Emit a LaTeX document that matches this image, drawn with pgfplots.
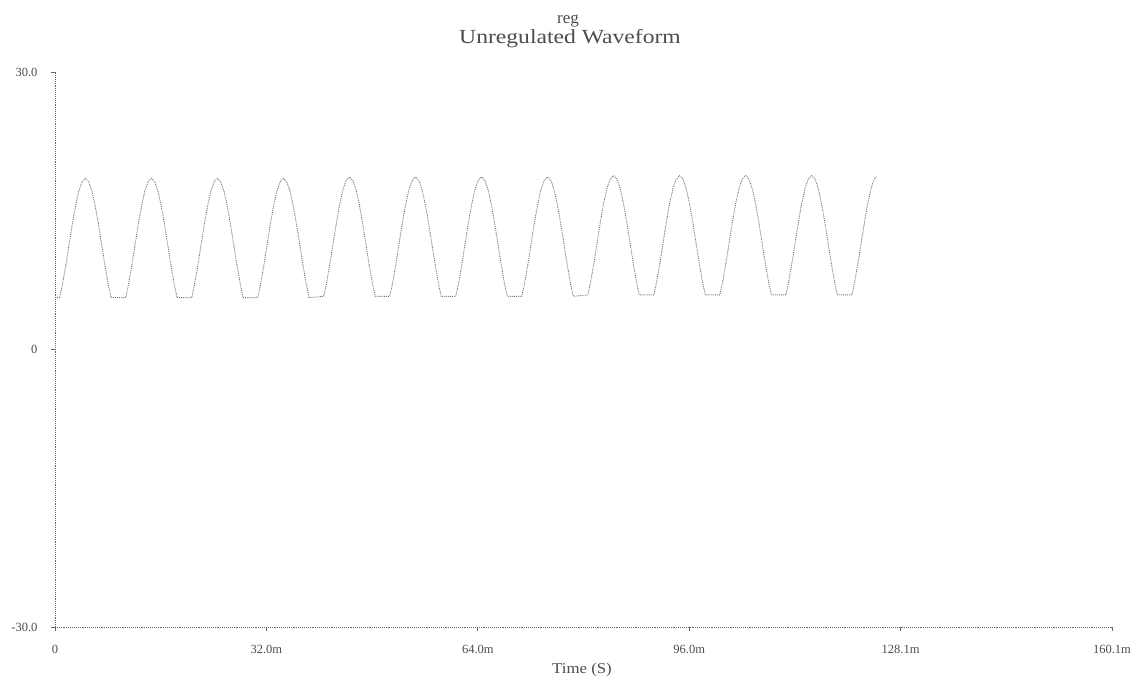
\documentclass[border=0pt]{standalone}
\usepackage{pgfplots}
\pgfplotsset{compat=1.18}
\usepackage{fontspec}
\setmainfont{Liberation Serif}
\begin{document}
\begin{tikzpicture}
\useasboundingbox (0,0) rectangle (1135pt,679pt);
\begin{axis}[
  at={(55pt,52pt)}, anchor=south west,
  scale only axis, width=1057pt, height=555pt,
  xmin=0, xmax=160.1, ymin=-30, ymax=30,
  axis x line*=bottom, axis y line*=left,
  axis line style={black!60, densely dotted, line width=0.9pt},
  xtick={0,32.02,64.04,96.06,128.08,160.1},
  xticklabels={0,32.0m,64.0m,96.0m,128.1m,160.1m},
  ytick={-30,0,30}, yticklabels={-30.0,0,30.0},
  tick align=outside, major tick length=4pt,
  tick style={black!60, line width=0.7pt},
  ticklabel style={font=\fontsize{12.5}{14}\selectfont, text=black!70},
  xticklabel style={yshift=-11pt},
  yticklabel style={xshift=-10pt},
  clip=false,
]
\addplot[black!55, densely dotted, line width=0.9pt] table {
0 5.6
0.7 5.6
1.1 6.91
1.6 8.94
2.1 11.2
2.6 13.46
3.1 15.49
3.6 17.11
4.1 18.14
4.6 18.5
5.1 18.14
5.6 17.11
6.1 15.49
6.6 13.46
7.1 11.2
7.6 8.94
8.1 6.91
8.5 5.6
10.7 5.6
11.1 6.91
11.6 8.94
12.1 11.2
12.6 13.46
13.1 15.49
13.6 17.11
14.1 18.14
14.6 18.5
15.1 18.14
15.6 17.11
16.1 15.49
16.6 13.46
17.1 11.2
17.6 8.94
18.1 6.91
18.5 5.6
20.7 5.6
21.1 6.91
21.6 8.94
22.1 11.2
22.6 13.46
23.1 15.49
23.6 17.11
24.1 18.14
24.6 18.5
25.1 18.14
25.6 17.11
26.1 15.49
26.6 13.46
27.1 11.2
27.6 8.94
28.1 6.91
28.5 5.6
30.7 5.6
31.1 6.91
31.6 8.94
32.1 11.2
32.6 13.46
33.1 15.49
33.6 17.11
34.1 18.14
34.6 18.5
35.1 18.14
35.6 17.11
36.1 15.49
36.6 13.46
37.1 11.2
37.6 8.94
38.1 6.91
38.5 5.6
40.7 5.75
41.1 7.06
41.6 9.09
42.1 11.35
42.6 13.61
43.1 15.64
43.6 17.26
44.1 18.29
44.6 18.65
45.1 18.29
45.6 17.26
46.1 15.64
46.6 13.61
47.1 11.35
47.6 9.09
48.1 7.06
48.5 5.75
50.7 5.75
51.1 7.06
51.6 9.09
52.1 11.35
52.6 13.61
53.1 15.64
53.6 17.26
54.1 18.29
54.6 18.65
55.1 18.29
55.6 17.26
56.1 15.64
56.6 13.61
57.1 11.35
57.6 9.09
58.1 7.06
58.5 5.75
60.7 5.75
61.1 7.06
61.6 9.09
62.1 11.35
62.6 13.61
63.1 15.64
63.6 17.26
64.1 18.29
64.6 18.65
65.1 18.29
65.6 17.26
66.1 15.64
66.6 13.61
67.1 11.35
67.6 9.09
68.1 7.06
68.5 5.75
70.7 5.75
71.1 7.06
71.6 9.09
72.1 11.35
72.6 13.61
73.1 15.64
73.6 17.26
74.1 18.29
74.6 18.65
75.1 18.29
75.6 17.26
76.1 15.64
76.6 13.61
77.1 11.35
77.6 9.09
78.1 7.06
78.5 5.75
80.7 5.9
81.1 7.21
81.6 9.24
82.1 11.5
82.6 13.76
83.1 15.79
83.6 17.41
84.1 18.44
84.6 18.8
85.1 18.44
85.6 17.41
86.1 15.79
86.6 13.76
87.1 11.5
87.6 9.24
88.1 7.21
88.5 5.9
90.7 5.9
91.1 7.21
91.6 9.24
92.1 11.5
92.6 13.76
93.1 15.79
93.6 17.41
94.1 18.44
94.6 18.8
95.1 18.44
95.6 17.41
96.1 15.79
96.6 13.76
97.1 11.5
97.6 9.24
98.1 7.21
98.5 5.9
100.7 5.9
101.1 7.21
101.6 9.24
102.1 11.5
102.6 13.76
103.1 15.79
103.6 17.41
104.1 18.44
104.6 18.8
105.1 18.44
105.6 17.41
106.1 15.79
106.6 13.76
107.1 11.5
107.6 9.24
108.1 7.21
108.5 5.9
110.7 5.9
111.1 7.21
111.6 9.24
112.1 11.5
112.6 13.76
113.1 15.79
113.6 17.41
114.1 18.44
114.6 18.8
115.1 18.44
115.6 17.41
116.1 15.79
116.6 13.76
117.1 11.5
117.6 9.24
118.1 7.21
118.5 5.9
120.7 5.9
121.1 7.21
121.6 9.24
122.1 11.5
122.6 13.76
123.1 15.79
123.6 17.41
124.1 18.44
124.5 18.75
};
\end{axis}
\node[font=\fontsize{17}{19}\selectfont, text=black!70] at (568pt,658pt) {reg};
\node[font=\fontsize{20}{24}\selectfont, text=black!70, xscale=1.18] at (570pt,640pt) {Unregulated Waveform};
\node[font=\fontsize{15}{18}\selectfont, text=black!70, xscale=1.12] at (582pt,9pt) {Time (S)};
\end{tikzpicture}
\end{document}
